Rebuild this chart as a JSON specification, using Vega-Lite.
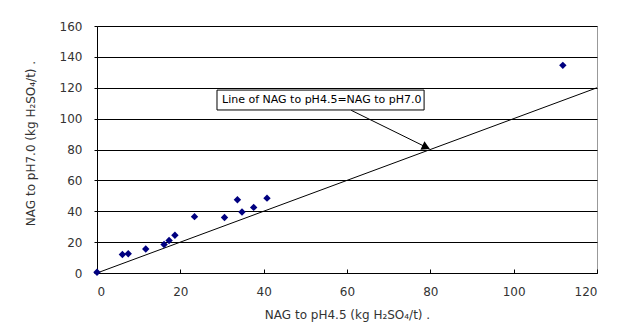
{
  "$schema": "https://vega.github.io/schema/vega-lite/v6.json",
  "width": 500,
  "height": 247,
  "autosize": {"type": "none"},
  "padding": {"left": 97, "top": 26, "right": 31, "bottom": 61},
  "background": "white",
  "config": {
    "view": {"stroke": "#999999", "strokeWidth": 1},
    "axis": {
      "labelFont": "DejaVu Sans",
      "titleFont": "DejaVu Sans",
      "labelFontSize": 12,
      "titleFontSize": 12,
      "titleFontWeight": "normal",
      "labelColor": "#333333",
      "titleColor": "#333333",
      "domainColor": "#000000",
      "tickColor": "#000000",
      "labelOverlap": false
    }
  },
  "datasets": {
    "pts": [
      {"ph45": 0, "ph70": 0.5},
      {"ph45": 6.1, "ph70": 12},
      {"ph45": 7.5, "ph70": 12.5},
      {"ph45": 11.7, "ph70": 15.5},
      {"ph45": 16.1, "ph70": 18.5},
      {"ph45": 17.3, "ph70": 21},
      {"ph45": 18.7, "ph70": 24.5},
      {"ph45": 23.4, "ph70": 36.5},
      {"ph45": 30.6, "ph70": 36},
      {"ph45": 33.7, "ph70": 47.5},
      {"ph45": 34.8, "ph70": 39.5},
      {"ph45": 37.6, "ph70": 42.5},
      {"ph45": 40.8, "ph70": 48.5},
      {"ph45": 111.8, "ph70": 134.5}
    ],
    "oneToOne": [
      {"ph45": 0, "ph70": 0},
      {"ph45": 120, "ph70": 120}
    ],
    "box": [
      {"ph45": 28.8, "x2": 78.5, "ph70": 105.6, "y2": 118.5, "label": "Line of NAG to pH4.5=NAG to pH7.0", "tx": 30, "ty": 112}
    ],
    "arrow": [
      {"ph45": 61, "ph70": 105.4, "x2": 79, "y2": 81.5}
    ]
  },
  "encoding": {
    "x": {
      "field": "ph45", "type": "quantitative",
      "scale": {"domain": [0, 120], "nice": false},
      "axis": {
        "title": "NAG to pH4.5 (kg H₂SO₄/t)   .",
        "values": [0, 20, 40, 60, 80, 100, 120],
        "grid": false,
        "tickSize": -4,
        "labelPadding": 17,
        "titlePadding": 12
      }
    },
    "y": {
      "field": "ph70", "type": "quantitative",
      "scale": {"domain": [0, 160], "nice": false},
      "axis": {
        "title": "NAG to pH7.0 (kg H₂SO₄/t)   .",
        "values": [0, 20, 40, 60, 80, 100, 120, 140, 160],
        "grid": true,
        "gridColor": "#000000",
        "gridOpacity": 1,
        "tickSize": 3,
        "labelPadding": 12,
        "titleX": -60,
        "titleY": 117
      }
    }
  },
  "layer": [
    {
      "data": {"name": "oneToOne"},
      "mark": {"type": "line", "color": "#000000", "strokeWidth": 1}
    },
    {
      "data": {"name": "pts"},
      "mark": {"type": "point", "shape": "diamond", "filled": true, "color": "#000080", "size": 55, "opacity": 1}
    },
    {
      "data": {"name": "arrow"},
      "mark": {"type": "rule", "color": "#000000", "strokeWidth": 1},
      "encoding": {
        "x2": {"field": "x2"},
        "y2": {"field": "y2"}
      }
    },
    {
      "data": {"name": "arrow"},
      "mark": {"type": "point", "shape": "triangle-up", "filled": true, "color": "#000000", "size": 90, "angle": 115, "opacity": 1},
      "encoding": {
        "x": {"field": "x2", "type": "quantitative"},
        "y": {"field": "y2", "type": "quantitative"}
      }
    },
    {
      "data": {"name": "box"},
      "mark": {"type": "rect", "fill": "#ffffff", "stroke": "#000000", "strokeWidth": 1},
      "encoding": {
        "x2": {"field": "x2"},
        "y2": {"field": "y2"}
      }
    },
    {
      "data": {"name": "box"},
      "mark": {"type": "text", "align": "left", "baseline": "middle", "font": "DejaVu Sans", "fontSize": 11, "color": "#000000"},
      "encoding": {
        "x": {"field": "tx", "type": "quantitative"},
        "y": {"field": "ty", "type": "quantitative"},
        "text": {"field": "label"}
      }
    }
  ]
}
